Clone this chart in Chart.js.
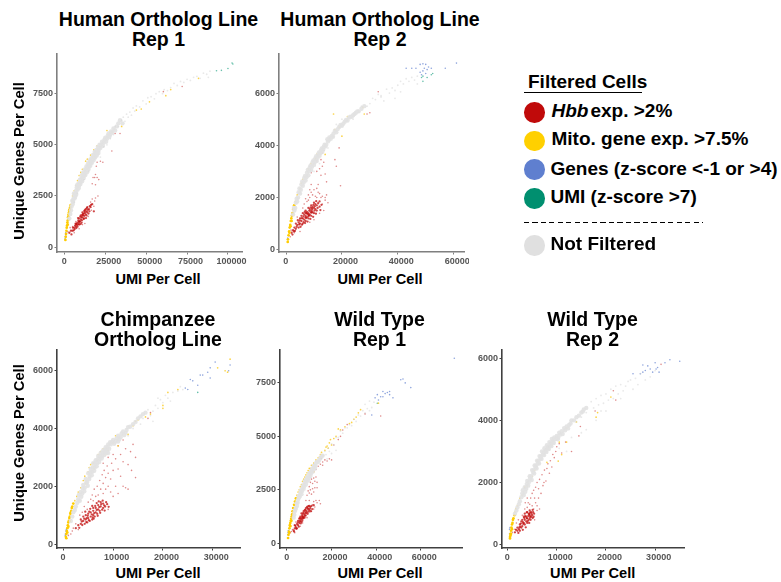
<!DOCTYPE html>
<html><head><meta charset="utf-8">
<script src="https://cdn.jsdelivr.net/npm/chart.js@4/dist/chart.umd.js"></script>
<style>
html,body{margin:0;padding:0;background:#fff;width:781px;height:582px;overflow:hidden;font-family:"Liberation Sans",Arial,sans-serif;font-weight:bold;color:#000}
canvas,.t{position:absolute}
.t{white-space:nowrap;text-align:center;transform:translateX(-50%)}
.pt{font-size:19.5px;line-height:20.4px}
.xt{font-size:14.6px;line-height:16px}
.yt{font-size:14.7px;line-height:16px;transform:translate(-50%,-50%) rotate(-90deg)}
.lg{position:absolute;white-space:nowrap;font-size:19px;line-height:22px}
.dot{position:absolute;width:20.5px;height:20.5px;border-radius:50%}
.ln{position:absolute}
</style></head><body>
<script>
const tickX1=[0,25000,50000,75000,100000], tickY1=[0,2500,5000,7500];
const tickX2=[0,20000,40000,60000], tickY2=[0,2000,4000,6000];
const tickX3=[0,10000,20000,30000], tickY3=[0,2000,4000,6000];
const tickX4=[0,20000,40000,60000], tickY4=[0,2500,5000,7500];
const tickX5=[0,10000,20000,30000], tickY5=[0,2000,4000,6000];

const h1Grey=[[3000,1400],[4000,1800],[5000,2100],[5500,2350],[6000,2500],[6500,2450],[7000,2750],[7500,2900],[8000,2800],[8500,3100],[9000,3000],[9500,3300],[10000,3200],[10500,3500],[11000,3350],[11500,3650],[12000,3500],[12500,3800],[13000,3650],[13500,3950],[14000,3800],[14500,4100],[15000,3950],[15500,4250],[16000,4100],[16500,4350],[17000,4250],[17500,4500],[18000,4350],[18500,4650],[19000,4500],[19500,4750],[20000,4600],[20500,4900],[21000,4750],[21500,5000],[22000,4850],[23000,5150],[24000,5100],[25000,5350],[26000,5300],[27000,5550],[28000,5500],[30000,5800],[32000,5900],[34000,6200]];
const h1GreyB=[[3600,1620],[4400,1980],[4800,2270],[5300,2200],[5800,2620],[6200,2380],[6800,2620],[7200,2560],[7700,3020],[8200,2980],[8700,2880],[9300,3130],[9800,3080],[10300,3330],[10800,3220],[11300,3480],[11800,3380],[12300,3650],[12800,3520],[13300,3780],[13800,3660],[14300,3930],[14800,3820],[15300,4080],[15800,3980],[16300,4220],[16800,4120],[17300,4360],[17800,4240],[18300,4480],[18800,4380],[19300,4620],[19800,4480],[20300,4740],[20800,4600],[21300,4860],[22500,5000],[23500,4950],[24500,5250],[25500,5150],[26500,5450],[27500,5400],[28500,5650],[29200,5600],[31000,5700],[33000,6050],[35500,6050]];
const h1GreyFine=[[22000,4400],[24000,4900],[26000,5000],[28000,5300],[30000,5500],[31000,5900],[33000,5900],[35000,6200],[36000,6350],[37000,6150],[38000,6500],[39000,6350],[40000,6600],[41000,6450],[42000,6800],[43000,6650],[44000,6900],[46000,6850],[48000,7150],[50000,7000],[51000,7300],[53000,7350],[55000,7250],[56000,7500],[58000,7600],[60000,7500],[61000,7700],[63000,7650],[65000,7800],[67000,8000],[69000,7900],[71000,8100],[73000,8050],[75000,8200],[77000,8150],[79000,8300],[81000,8350],[83000,8250],[85000,8500],[87000,8450],[89000,8600],[88000,8300],[6000,2200],[8000,2650],[12000,3300],[15000,3700]];
const h1Gold=[[600,350],[800,500],[1000,650],[1200,800],[1400,950],[1600,1050],[1800,1200],[2000,1300],[2200,1450],[2400,1500],[2600,1600],[2800,1700],[3000,1800],[3200,1850],[3500,1950],[3800,2050],[2000,1100],[2500,1350]];
const h1GoldFine=[[4500,2250],[5000,2500],[5500,2600],[6000,2750],[7000,3000],[8000,3250],[9000,3500],[10000,3650],[11000,3800],[13000,4200],[14000,4300],[16000,4500],[18000,4750],[20000,4950],[26000,5700],[29000,5600],[35000,5900],[44000,6700],[47000,6750],[52000,7100],[62000,7400],[65000,7700],[82000,8250]];
const h1Red=[[3000,700],[4000,800],[5000,800],[6000,950],[6500,1050],[7000,1000],[7500,1150],[8000,1200],[8000,1000],[8500,1300],[9000,1100],[9000,1400],[9500,1250],[10000,1350],[10000,1550],[10500,1200],[11000,1450],[11000,1700],[11500,1550],[12000,1650],[12000,1400],[12500,1800],[13000,1600],[13000,1850],[13500,1750],[14000,1700],[14000,1950],[15000,1850],[15500,2000],[16000,1950],[17000,2100]];
const h1RedB=[[4300,620],[5200,950],[5700,820],[6300,880],[6800,1150],[7300,930],[7800,1080],[8300,1420],[8700,1130],[9200,1260],[9700,1490],[9900,1130],[10400,1460],[10700,1310],[11300,1620],[11700,1370],[12200,1530],[12700,1690],[13200,1420],[13700,1900],[14300,1820],[14700,1640],[15300,1750],[16300,2060],[12100,1760],[10900,1570],[8900,1230],[7100,1110],[18000,1750],[13500,1550]];
const h1RedFine=[[1000,600],[2000,750],[3500,950],[5000,1000],[6000,700],[7000,1250],[9000,900],[11000,1100],[12500,1150],[14500,1500],[16500,1800],[18000,2000],[18500,2250],[19000,2400],[20500,2500],[17000,2350],[16000,2200],[19000,3050],[17500,3400],[18500,3400],[20000,3400],[21000,3300],[17000,3100],[19000,3550],[19500,3950],[20000,4150],[22000,4200],[23500,4150],[29000,4700],[31000,5550],[34000,5550],[60500,7600],[72000,7850]];
const h1Blue=[[500,500],[700,600],[800,700],[400,400]];
const h1Green=[[93000,8620],[96000,8640],[100000,8730],[103000,8950],[102500,9000]];

const h2Grey=[[2500,1350],[3000,1500],[3500,1800],[4000,1850],[4500,2200],[5000,2150],[5500,2500],[6000,2450],[6500,2750],[7000,2650],[7500,2950],[8000,2850],[8500,3150],[9000,3050],[9500,3350],[10000,3250],[10500,3500],[11000,3400],[11500,3650],[12000,3600],[12500,3800],[13000,3750],[13500,3950],[14000,3950],[15000,4150],[15500,4300],[16000,4250],[17000,4450],[18000,4500],[19000,4700],[20000,4750],[21000,4900],[22000,4950],[23000,5100],[24000,5150],[25000,5250],[26000,5300],[28000,5500]];
const h2GreyB=[[2800,1600],[3300,1600],[3800,1950],[4300,2000],[4800,2350],[5300,2300],[5800,2620],[6300,2580],[6800,2830],[7300,2780],[7800,3060],[8300,3000],[8800,3230],[9300,3180],[9800,3420],[10300,3360],[10800,3580],[11300,3520],[11800,3730],[12300,3700],[12800,3880],[13300,3840],[13800,4020],[14400,4020],[14800,4230],[15300,4200],[16400,4360],[16800,4330],[17500,4560],[18500,4620],[19500,4780],[20500,4830],[21500,4970],[22500,5060],[23500,5090],[24500,5200],[25500,5300],[27000,5400]];
const h2GreyFine=[[18000,4800],[20000,5000],[24000,5000],[27000,5500],[29000,5500],[30000,5600],[31000,5800],[32000,5750],[33000,5950],[34000,5850],[35000,5700],[36000,6150],[37000,6000],[38000,6200],[39000,6100],[40000,6300],[41000,6450],[42000,6350],[43000,6550],[44000,6450],[45000,6600],[46000,6500],[47000,6650],[47000,6350],[41000,6050],[39000,5800],[34000,5900],[15000,3900],[12000,3300],[10000,3000]];
const h2Gold=[[600,300],[700,400],[900,550],[1100,700],[1300,850],[1500,950],[1700,1100],[1900,1200],[2100,1300],[2300,1400],[2600,1550],[2900,1700],[1200,650],[1600,900],[2000,1100]];
const h2GoldFine=[[3300,1850],[4000,2100],[5000,2350],[5500,2550],[6000,2700],[6500,2800],[8000,3100],[9000,3300],[9500,3250],[10500,3500],[11000,3650],[12500,3750],[14000,3650],[17000,5200],[17500,4600],[20000,4350],[19000,4700],[22000,5100],[27500,5450],[28000,5200]];
const h2Red=[[2000,650],[2500,750],[3000,850],[3500,800],[3500,1000],[4000,950],[4500,1050],[4500,850],[5000,1000],[5000,1200],[5500,1100],[5500,1300],[6000,1000],[6000,1200],[6000,1400],[6500,1150],[6500,1350],[7000,1100],[7000,1300],[7000,1500],[7500,1250],[7500,1450],[8000,1200],[8000,1400],[8000,1600],[8500,1350],[8500,1550],[9000,1300],[9000,1500],[9000,1700],[9500,1450],[9500,1650],[10000,1400],[10000,1600],[10000,1800],[10500,1550],[10500,1750],[11000,1500],[11000,1700],[12000,1650],[12000,1850]];
const h2RedB=[[2300,580],[2800,700],[3200,720],[3800,880],[4200,1130],[4700,970],[5200,880],[5700,960],[6200,1280],[6700,1450],[6800,1020],[7200,1210],[7700,1080],[7800,1360],[8200,1320],[8300,1490],[8700,1180],[8800,1620],[9200,1420],[9300,1590],[9700,1260],[9800,1720],[10200,1500],[10300,1670],[10700,1380],[10800,1860],[11300,1600],[11500,1780],[12300,1520],[12700,1720],[6300,1060],[6900,1240],[7400,1390],[8900,1440],[9400,1540],[7100,1400],[8100,1290],[5600,1210],[4900,1120]];
const h2RedFine=[[1500,500],[1800,750],[3000,650],[4000,1250],[5000,700],[6000,1600],[6500,1750],[7000,1950],[7500,1850],[8000,1900],[8000,2100],[8500,2000],[8500,2300],[9000,2200],[9000,2500],[9500,2100],[10000,2300],[10500,2050],[11000,2000],[11000,2350],[11500,2200],[11500,2500],[12000,2150],[12500,2000],[13000,2050],[13000,1750],[14000,1900],[14000,2000],[15000,1800],[13500,1500],[12000,1400],[10000,1150],[8500,1050],[14500,2100],[9000,2950],[11000,3000],[12000,3100],[12500,2850],[13000,3200],[13500,3350],[13000,3700],[14000,2900],[14500,2600],[11000,3400],[12500,3450],[17500,3450],[18000,3200],[19500,2450],[19000,3900],[13500,3800],[29000,5200],[30000,5250],[33000,6050]];
const h2Blue=[[43000,6950],[45000,6950],[46500,6950],[48000,7100],[49000,7120],[50000,7100],[50500,6900],[51000,7000],[52000,6950],[49000,6850],[48500,6700],[50000,6750],[49500,6950],[48000,6800],[57000,6950],[61000,7150],[600,450],[500,400]];
const h2Green=[[49000,6450],[49000,6650],[50500,6600],[52000,6700],[52500,6750],[48500,6600]];

const cGrey=[[1500,800],[2000,1100],[2500,1300],[3000,1550],[3300,1500],[3500,1800],[3800,1750],[4000,2050],[4300,1950],[4500,2250],[4800,2150],[5000,2450],[5300,2350],[5500,2600],[5800,2500],[6000,2800],[6300,2650],[6500,2900],[6800,2800],[7000,3050],[7300,2950],[7500,3150],[7800,3050],[8000,3250],[8300,3150],[8500,3350],[8800,3250],[9000,3450],[9500,3450],[10000,3600],[10500,3550],[11000,3750],[11500,3700],[12000,3900],[12500,3850],[13000,4050],[14000,4150],[15000,4350],[16000,4500]];
const cGreyB=[[1800,950],[2300,1180],[2800,1430],[3100,1700],[3600,1640],[3900,1930],[4200,1830],[4600,2120],[4900,2020],[5200,2250],[5400,2480],[5700,2380],[5900,2660],[6200,2540],[6400,2780],[6700,2690],[6900,2940],[7200,2840],[7400,3040],[7700,2960],[7900,3150],[8200,3080],[8400,3260],[8700,3150],[8900,3350],[9200,3300],[9400,3530],[9800,3540],[10200,3470],[10700,3660],[11200,3630],[11700,3830],[12200,3770],[12700,3950],[13400,4060],[14500,4230],[15500,4420],[16500,4550],[11000,3550],[9000,3150]];
const cGreyFine=[[14000,4000],[15500,4150],[16000,4350],[17000,4650],[17500,4450],[18000,4600],[18500,4800],[19000,4700],[19500,5000],[20000,4900],[20500,5150],[21000,5050],[22000,5250],[23000,5300],[23500,5450],[24000,5350],[18000,4250],[13000,3750],[19000,5050],[21500,4950]];
const cGold=[[500,250],[600,350],[700,450],[800,550],[900,650],[1000,750],[1100,800],[1200,900],[1300,950],[1400,1050],[1500,1100],[1600,1150],[1700,1250],[1800,1300],[2000,1400],[800,400],[1000,600],[1300,800],[600,200]];
const cGoldFine=[[2300,1500],[2700,1650],[3000,1800],[3500,1950],[4000,2200],[4300,2350],[4500,2100],[5000,2500],[5200,2650],[5500,2750],[6000,2800],[6200,2600],[6800,2900],[7000,3100],[7500,3200],[8000,3300],[8500,3100],[9000,3250],[9500,3500],[10000,3500],[10500,3750],[11000,3400],[13000,3800],[14000,4100],[14500,4250],[15000,4300],[16500,4400],[17500,4500],[20000,4800],[20000,4700],[21000,5250],[23000,5350],[31000,6100],[32500,6000],[33500,6400],[33000,5950]];
const cRed=[[2500,550],[3000,650],[3500,700],[3500,850],[4000,800],[4000,950],[4300,700],[4500,850],[4500,1000],[4800,750],[5000,900],[5000,1050],[5300,800],[5500,950],[5500,1100],[5800,850],[6000,1000],[6000,1150],[6000,1250],[6300,950],[6500,1100],[6500,1250],[6800,1050],[7000,1200],[7000,1350],[7300,1150],[7500,1300],[7500,1450],[8000,1250],[8000,1400],[8400,1300],[8600,1450]];
const cRedB=[[3200,560],[3700,780],[4200,880],[4600,760],[4900,980],[5200,1120],[5100,830],[5700,1030],[5900,920],[6200,1070],[6400,1320],[6100,880],[6700,1180],[6900,980],[7200,1280],[7400,1080],[7600,1380],[7800,1190],[8200,1340],[8300,1160],[8800,1380],[9100,1290],[4400,1120],[5400,1220],[5800,1320],[6700,1420],[7100,1480],[7900,1500],[3800,660],[4700,900]];
const cRedFine=[[1000,300],[1500,350],[1800,450],[2000,550],[2500,700],[3000,500],[3300,1000],[3800,1100],[4200,1300],[4800,1200],[5000,1450],[5500,1550],[5800,1700],[6000,1500],[6200,1900],[6500,1650],[6800,2000],[7000,1700],[7300,2200],[7500,1900],[7800,2400],[8000,1750],[8000,2100],[8200,2550],[8500,1900],[8500,2300],[8800,2700],[9000,2000],[9000,2450],[9000,1200],[9500,1800],[9500,2250],[9700,2800],[10000,2550],[10000,1650],[10500,2000],[10500,2950],[11000,1750],[11000,2600],[11500,2350],[11500,3100],[12000,2850],[12000,2000],[12500,3300],[13000,2750],[13000,1900],[13500,3200],[13700,2550],[14000,3450],[14500,2300],[12500,1950],[11000,3400],[10000,3100],[9000,3000],[8000,2800],[12000,3600],[14500,3000],[17000,4350],[17500,4550]];
const cBlue=[[24500,5400],[25000,5350],[25500,5700],[26000,5650],[27000,5500],[27500,5850],[28000,5850],[29000,5950],[29500,5750],[30500,6300],[29500,6100],[33500,6200],[33200,6000],[400,350],[500,450],[600,500],[400,300]];
const cGreen=[[27000,5250]];

const w1Grey=[[3000,1200],[3500,1500],[4000,1650],[4500,1750],[5000,2050],[5500,2150],[6000,2350],[6500,2300],[7000,2600],[7500,2550],[8000,2850],[8500,2750],[9000,3050],[9500,2950],[10000,3250],[10500,3150],[11000,3400],[11500,3350],[12000,3600],[12500,3500],[13000,3750],[14000,3800],[15000,4000],[16000,4100]];
const w1GreyB=[[3300,1340],[3800,1580],[4300,1880],[4800,1900],[5300,2200],[5800,2230],[6300,2480],[6800,2450],[7300,2720],[7800,2680],[8300,2950],[8800,2880],[9300,3130],[9800,3060],[10300,3300],[10800,3260],[11300,3480],[11800,3460],[12300,3640],[12800,3620],[13500,3820],[14500,3900],[15500,4060]];
const w1GreyFine=[[15500,3950],[17000,4300],[17500,4150],[18500,4450],[19000,4300],[20000,4650],[21000,4600],[22000,4950],[23000,4950],[24000,5250],[25000,5150],[26000,5400],[27000,5400],[28000,5550],[29000,5500],[30000,5800],[31000,5700],[32000,6000],[33000,5950],[34000,6200],[35000,6100],[36000,6300],[37000,6200],[38000,6350],[18000,3950],[20000,4200],[22000,4350],[37000,6650],[35000,6500],[39000,6600]];
const w1Gold=[[500,250],[700,400],[900,550],[1100,700],[1300,850],[1500,950],[1700,1050],[1900,1150],[2100,1250],[2300,1350],[2500,1500],[2800,1650],[1000,500],[1500,800],[2000,1050],[3200,1800],[3600,1950],[4000,2100]];
const w1GoldFine=[[4500,2250],[5000,2400],[5500,2500],[6000,2650],[6500,2750],[7000,2900],[7500,3000],[8000,3100],[8500,3200],[9000,3300],[9500,3400],[10000,3500],[10500,3500],[11000,3650],[12000,3750],[12000,3350],[13000,3900],[14000,4000],[15000,4150],[15500,4250],[16000,4100],[17000,4350],[17500,4500],[18000,4550],[18500,4450],[19000,4700],[19500,4850],[20000,4600],[21000,4900],[22000,5000],[23000,5350],[24000,5300],[26000,5450],[28000,5600],[29000,5650],[30000,5800],[31000,5900],[32000,6100],[33000,6250],[41000,6550]];
const w1Red=[[3000,600],[3500,700],[3500,850],[4000,750],[4500,900],[4500,700],[5000,850],[5000,1050],[5500,950],[5500,1150],[6000,1050],[6000,1250],[6500,1000],[6500,1200],[6500,1400],[7000,1150],[7000,1350],[7500,1250],[7500,1500],[8000,1300],[8000,1550],[8500,1400],[8500,1650],[9000,1450],[9000,1700],[9500,1600],[10000,1550],[10000,1750],[10500,1700],[11000,1750]];
const w1RedB=[[3200,550],[3800,820],[4200,680],[4800,980],[5300,780],[5700,1030],[6200,930],[6300,1130],[6800,1280],[6900,1060],[7300,1420],[7400,1180],[7800,1370],[7900,1200],[8300,1580],[8400,1300],[8800,1520],[9300,1380],[9300,1640],[9800,1480],[10300,1620],[10700,1500],[5800,1180],[7100,1220],[8200,1460],[9600,1740],[11300,1600],[12000,1780]];
const w1RedFine=[[1500,500],[2000,550],[2500,650],[4000,1000],[3500,500],[6000,800],[7000,950],[9000,1200],[11000,1500],[11500,1800],[12000,1950],[12500,1700],[13000,2000],[13500,1900],[14500,2000],[15000,1850],[12000,1600],[10000,2000],[8500,2000],[9000,2250],[9500,2450],[10000,2350],[10000,2650],[10500,2850],[10500,2500],[11000,2300],[11000,3000],[11500,2550],[11500,2800],[12000,3050],[12000,2400],[12500,2600],[12500,2900],[13000,3100],[13500,2850],[13500,2600],[12000,3350],[13000,3450],[14000,3600],[15000,3700],[15000,4050],[16000,3650],[17000,3900],[18000,3850],[16000,3800],[19000,3950],[20000,3900],[21000,4600],[23000,4850],[24000,5000],[25000,5300],[27000,5550],[35000,6050],[42000,5950]];
const w1Blue=[[38000,6000],[39500,6800],[40500,6950],[41000,6700],[42000,6850],[43000,7100],[43000,6850],[44000,7000],[45000,7050],[46000,7100],[46000,6950],[47500,6800],[51000,7650],[52000,7680],[53000,7500],[55500,7280],[75000,8650],[500,500],[600,600],[400,400]];
const w1Green=[[40500,6550]];

const w2Grey=[[1500,1000],[2000,1200],[2500,1400],[3000,1650],[3300,1600],[3500,1850],[3800,1800],[4000,2050],[4300,2000],[4500,2200],[4800,2200],[5000,2400],[5300,2400],[5500,2550],[5800,2550],[6000,2700],[6300,2700],[6500,2850],[6800,2850],[7000,3000],[7300,2950],[7500,3100],[7800,3050],[8000,3200],[8300,3150],[8500,3300],[8800,3250],[9000,3400],[9300,3350],[9500,3450],[10000,3500],[10300,3450],[10500,3600],[11000,3650],[11500,3750],[12000,3800],[12500,3850],[13000,4000],[14000,4100],[15000,4250],[15500,4350],[16000,4400]];
const w2GreyB=[[1800,1100],[2300,1300],[2800,1530],[3100,1750],[3600,1700],[3900,1950],[4200,1900],[4600,2120],[4900,2080],[5200,2320],[5400,2290],[5700,2480],[5900,2450],[6200,2620],[6400,2610],[6700,2780],[6900,2760],[7200,2900],[7400,2880],[7700,3010],[7900,2980],[8200,3100],[8400,3080],[8700,3190],[8900,3170],[9200,3290],[9400,3270],[9800,3400],[10200,3390],[10700,3540],[11200,3560],[11700,3680],[12300,3740],[12800,3900],[13500,4000],[14500,4150],[15300,4280]];
const w2GreyFine=[[14000,3950],[15000,4100],[16000,4250],[17000,4600],[17500,4400],[18000,4700],[18500,4500],[19000,4800],[19500,4550],[20000,4850],[20500,4650],[21000,5000],[21500,4700],[22000,5100],[22500,4850],[23000,5150],[23500,4950],[24000,5100],[24500,5250],[25000,5300],[25500,5000],[26000,5350],[26500,5150],[27000,5500],[28000,5300],[29000,5400],[30000,5600],[15000,3600],[16000,3700],[13000,3450],[18000,4000],[19000,4300],[12000,3000],[10500,3100],[20000,4300],[23000,4700]];
const w2Gold=[[500,250],[600,350],[700,450],[800,550],[900,650],[1000,700],[1100,800],[1200,850],[700,350],[900,500],[500,200],[600,300],[1400,950]];
const w2GoldFine=[[1500,1050],[1700,1150],[2000,1250],[2500,1500],[3000,1600],[3500,1850],[4000,1900],[5000,2200],[5500,2400],[6000,2700],[8000,2650],[9000,3200],[10300,2690],[10500,3300],[11000,2900],[12000,3300],[12000,3750],[14000,3950],[18000,4100],[18300,4250],[21000,4750]];
const w2Red=[[1500,400],[2000,450],[2000,550],[2300,500],[2500,650],[2500,450],[2800,550],[2800,750],[3000,600],[3000,800],[3300,700],[3300,900],[3500,650],[3500,800],[3500,1000],[3800,750],[3800,900],[4000,700],[4000,850],[4000,1050],[4300,800],[4300,1000],[4500,850],[4500,950],[4500,1100],[4800,900],[4800,1050],[5000,950],[5200,1050],[5300,900]];
const w2RedB=[[1700,480],[2200,380],[2600,580],[3100,480],[3200,670],[3400,860],[3700,560],[3900,1040],[4100,760],[4200,920],[4400,700],[4600,1030],[4700,800],[4900,1000],[5100,860],[5400,1000],[5100,1120],[3600,920],[3100,730],[2700,680],[4400,980],[3900,850],[4600,900],[2400,560]];
const w2RedFine=[[800,350],[1000,400],[1500,500],[1800,700],[2200,800],[3000,950],[3500,1150],[4000,1200],[4200,1350],[4500,1300],[4700,1500],[5000,1250],[5000,1650],[5300,1750],[5500,1500],[5300,1150],[5700,1350],[5700,1850],[6000,1250],[6000,2000],[6300,1500],[6300,1800],[6500,1150],[6500,2100],[6800,1650],[7000,2250],[7200,1900],[7400,2000],[7500,2400],[7800,2050],[8000,2450],[8200,2600],[8500,2300],[8700,2700],[9000,2500],[9200,2900],[9500,2800],[9800,3000],[10000,3150],[10500,3250],[11000,2950],[11800,3300],[13000,3000],[14500,3500],[14800,3800],[17800,4300],[21500,4950],[22000,4650],[31200,5800],[4000,1500],[3600,1350],[6000,1100],[5500,800]];
const w2Blue=[[25500,5500],[27000,5500],[27500,5550],[28000,5600],[28500,5750],[29000,5650],[29500,5550],[30000,5850],[30200,5650],[30500,5700],[30800,5550],[27500,5780],[35000,5900],[33000,5950],[32000,5850],[400,500],[500,550],[400,350]];
const w2Green=[];

const names=["Hbb exp. >2%","Mito. gene exp. >7.5%","Genes (z-score <-1 or >4)","UMI (z-score >7)","Not Filtered"];
const UMI="UMI Per Cell", GENES="Unique Genes Per Cell";

const panels=[
 {title:["Human Ortholog Line","Rep 1"],tc:158.5,tt:9,xc:158,xy:271,l:4,t:52,r:247,b:252,ax:57,xr:[-4540,108590],yr:[-240,9430],pr:5,tx:tickX1,ty:tickY1,axis:'#7f7f7f',
  s:[h1GreyFine,h1Grey.concat(h1GreyB),h1Gold,h1GoldFine,h1Red.concat(h1RedB),h1RedFine,h1Blue,h1Green]},
 {title:["Human Ortholog Line","Rep 2"],tc:380,tt:9,xc:380,xy:271,l:250,t:52,r:469,b:252,ax:279,xr:[-2520,63700],yr:[-87,7490],pr:5,tx:tickX2,ty:tickY2,axis:'#7f7f7f',
  s:[h2GreyFine,h2Grey.concat(h2GreyB),h2Gold,h2GoldFine,h2Red.concat(h2RedB),h2RedFine,h2Blue,h2Green]},
 {title:["Chimpanzee","Ortholog Line"],tc:158,tt:309,xc:158,xy:564.5,l:4,t:348,r:243,b:548,ax:57,xr:[-1277,35650],yr:[-137,6712],pr:1,tx:tickX3,ty:tickY3,axis:'#404040',
  s:[cGreyFine,cGrey.concat(cGreyB),cGold,cGoldFine,cRed.concat(cRedB),cRedFine,cBlue,cGreen]},
 {title:["Wild Type","Rep 1"],tc:379.5,tt:309,xc:380,xy:564.5,l:250,t:348,r:465,b:548,ax:280,xr:[-3111,78800],yr:[-218,9028],pr:1,tx:tickX4,ty:tickY4,axis:'#404040',
  s:[w1GreyFine,w1Grey.concat(w1GreyB),w1Gold,w1GoldFine,w1Red.concat(w1RedB),w1RedFine,w1Blue,w1Green]},
 {title:["Wild Type","Rep 2"],tc:592.5,tt:309,xc:592.7,xy:564.5,l:472,t:348,r:687,b:548,ax:502,xr:[-1130,36030],yr:[-105,6255],pr:1,tx:tickX5,ty:tickY5,axis:'#404040',
  s:[w2GreyFine,w2Grey.concat(w2GreyB),w2Gold,w2GoldFine,w2Red.concat(w2RedB),w2RedFine,w2Blue,w2Green]}
];
const looks=[
 ['rgba(215,215,215,.55)',.9],['rgba(226,226,226,.9)',2.2],['#FFCC00',1.35],['rgba(250,205,40,.85)',.85],
 ['rgba(192,10,10,.75)',1.15],['rgba(192,20,20,.5)',.8],['rgba(95,127,207,.7)',.8],['rgba(0,150,115,.6)',.8]
];
const seriesNames=["Not Filtered","Not Filtered","Mito. gene exp. >7.5%","Mito. gene exp. >7.5%","Hbb exp. >2%","Hbb exp. >2%","Genes (z-score <-1 or >4)","UMI (z-score >7)"];

function addText(cls,text,left,top){
  const d=document.createElement('div');d.className='t '+cls;d.style.left=left+'px';d.style.top=top+'px';
  d.innerHTML=text;document.body.appendChild(d);return d;
}
const tickFont={family:'"Liberation Sans",Arial,sans-serif',weight:'bold',size:9};
panels.forEach(p=>{
  const H=p.b-p.t+16, W=p.r-p.l;
  const cv=document.createElement('canvas');
  cv.width=W;cv.height=H;cv.style.left=p.l+'px';cv.style.top=p.t+'px';cv.style.width=W+'px';cv.style.height=H+'px';
  document.body.appendChild(cv);
  const sideOpts=(vals)=>({
    type:'linear',
    grid:{display:true,drawOnChartArea:false,drawTicks:true,tickLength:2.5,tickColor:p.axis,tickWidth:1},
    border:{display:true,color:p.axis,width:1.6},
    afterBuildTicks:s=>{s.ticks=vals.map(v=>({value:v}));},
    ticks:{autoSkip:false,maxRotation:0,minRotation:0,color:'#555',font:tickFont,padding:1.5,callback:v=>String(v)}
  });
  const xOpts=sideOpts(p.tx);
  xOpts.ticks.labelOffset=3.5;
  // the zero label sits right under its tick in the reference: trailing blanks cancel the shift
  xOpts.ticks.callback=v=>v===0?'0   ':String(v);
  new Chart(cv,{
    type:'scatter',
    data:{datasets:p.s.map((arr,i)=>({label:seriesNames[i],data:arr.map(a=>({x:a[0],y:a[1]})),backgroundColor:looks[i][0],pointRadius:looks[i][1],pointBorderWidth:0,pointHoverRadius:looks[i][1]}))},
    options:{responsive:false,animation:false,maintainAspectRatio:false,devicePixelRatio:1,
      layout:{padding:{right:p.pr}},
      plugins:{legend:{display:false},tooltip:{enabled:false},title:{display:false}},
      scales:{
        x:Object.assign(xOpts,{min:p.xr[0],max:p.xr[1],afterFit:s=>{s.height=16;s.paddingLeft=0;s.paddingRight=0;}}),
        y:Object.assign(sideOpts(p.ty),{min:p.yr[0],max:p.yr[1],afterFit:s=>{s.width=p.ax-p.l;s.paddingTop=0;s.paddingBottom=0;}})
      }
    }
  });
  addText('pt',p.title.join('<br>'),p.tc,p.tt);
  addText('xt',UMI,p.xc,p.xy);
});
addText('yt',GENES,19,161);
addText('yt',GENES,19,443);

// Legend
const legendColors=['#C00A0A','#FFD000','#5F7FCF','#008F6F','#E0E0E0'];
const legendY=[112.3,141,169.7,198.3,245.3];
const textY=[110.7,139.3,168.7,197.3,244.3];
function el(cls,css,html){const d=document.createElement('div');d.className=cls;d.style.cssText=css;if(html)d.innerHTML=html;document.body.appendChild(d);}
el('lg','left:528px;top:71px','Filtered Cells');
el('ln','left:524px;top:92px;width:118px;height:1px;background:#000');
el('ln','left:524px;top:221.5px;width:179px;height:1.5px;background:repeating-linear-gradient(90deg,#000 0,#000 5px,transparent 5px,transparent 8.5px)');
legendColors.forEach((c,i)=>{
  el('dot','left:'+(534.7-10.25)+'px;top:'+(legendY[i]-10.25)+'px;background:'+c);
  const label=i===0?'<i>Hbb</i><span style="margin-left:2px">exp. &gt;2%</span>':names[i].replace(/</g,'&lt;').replace(/>/g,'&gt;');
  el('lg','left:'+(i<2?551.5:550.5)+'px;top:'+(textY[i]-11)+'px',label);
});
</script>
</body></html>
